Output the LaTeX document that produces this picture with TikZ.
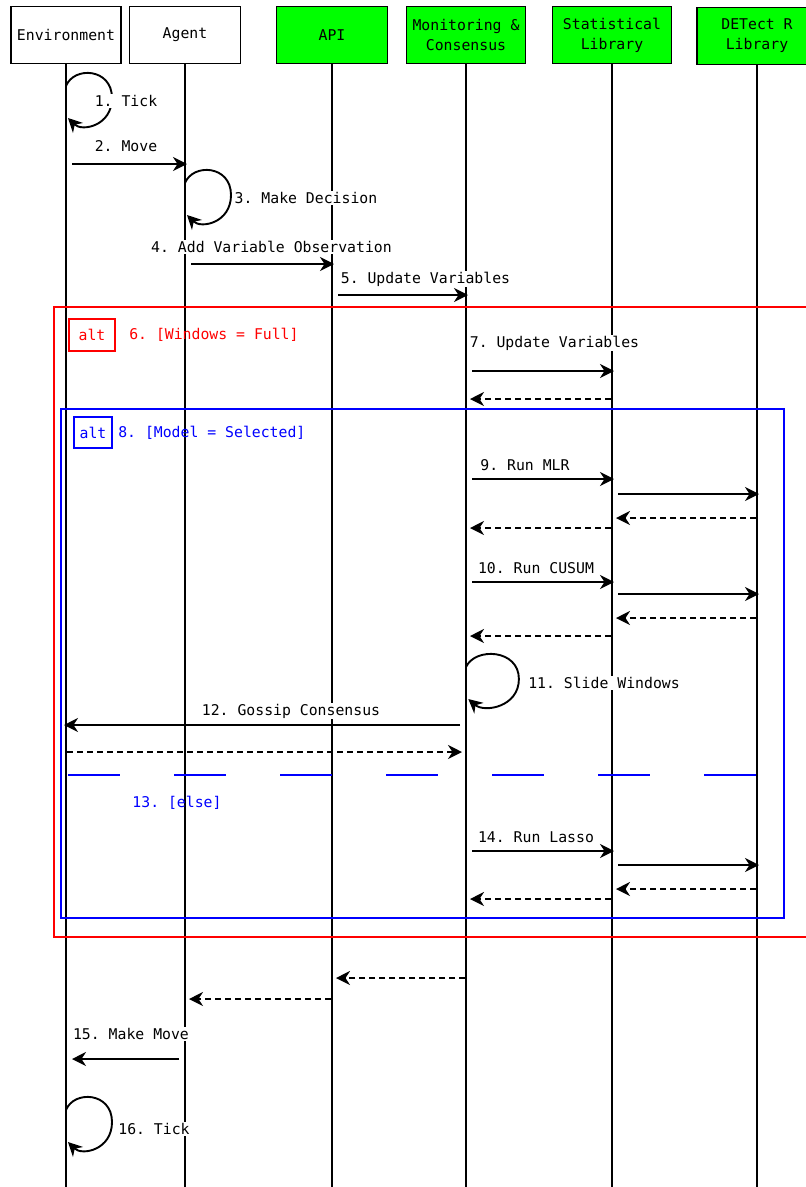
\documentclass[tikz,border=0pt]{standalone}
\usepackage{fontspec}
\setmainfont{DejaVu Sans Mono}
\frenchspacing
\usetikzlibrary{arrows.meta,positioning,calc}

\tikzset{
  actor/.style={draw,line width=1.6pt,minimum height=57pt,align=center,inner sep=2pt},
  lib/.style={actor,fill=green},
  life/.style={line width=1.4pt},
  msg/.style={->,line width=1.9pt,shorten <=6pt,shorten >=-2pt},
  ret/.style={->,line width=1.9pt,dash pattern=on 6pt off 4pt,shorten <=1pt,shorten >=4pt},
  lbl/.style={fill=white,inner sep=1pt},
  tag/.style={draw,line width=1.5pt,minimum width=46pt,minimum height=32pt,inner sep=1pt},
  selfloop/.pic={\draw[->,line width=1.9pt] (0,0) .. controls (8,-20) and (46,-18) .. (46,12) .. controls (46,40) and (16,46) .. (2,32);}
}

\begin{document}
\begin{tikzpicture}[x=1pt,y=-1pt,>={Stealth[length=14pt,width=14pt,inset=4.5pt]},font=\fontsize{14.8}{20}\selectfont]
\useasboundingbox (0,0) rectangle (806,1187);

% participants
\node[actor,minimum width=110pt] (env) at (66,35) {Environment};
\node[actor,minimum width=111pt] (agent) at (185,35) {Agent};
\node[lib,minimum width=111pt] (api) at (332,35) {API};
\node[lib,minimum width=119pt] (mon) at (466,35) {Monitoring \&\\Consensus};
\node[lib,minimum width=119pt] (stat) at (612,35) {Statistical\\Library};
\node[lib,minimum width=120pt] (detect) at (757,36) {DETect R\\Library};

\foreach \n in {env,agent,api,mon,stat,detect}
  \draw[life] (\n.south) -- (\n.south |- 0,1190);

% alt frames
\draw[red,line width=2pt] (54,307) rectangle (820,937);
\node[tag,red] (alt1) at (92,335) {alt};
\node[red,right=10pt of alt1] (cond1) {6. [Windows = Full]};
\draw[blue,line width=2pt] (61,409) rectangle (784,918);
\node[tag,blue,minimum width=38pt,minimum height=31pt] (alt2) at (93,432.5) {alt};
\node[blue,right=2pt of alt2] (cond2) {8. [Model = Selected]};
\draw[blue,line width=2pt,dash pattern=on 52pt off 54pt] ([xshift=2pt]env |- 0,775) -- (detect |- 0,775);
\node[blue] (cond3) at (177,803) {13. [else]};

% messages
\pic at (env |- 0,86) {selfloop};
\node[lbl] (t1) at (126,101) {1. Tick};
\draw[msg] (env |- 0,164) -- (agent |- 0,164);
\node[lbl] (t2) at (126,146) {2. Move};
\pic at (agent |- 0,183) {selfloop};
\node[lbl] (t3) at (306,198) {3. Make Decision};
\draw[msg] (agent |- 0,264) -- (api |- 0,264);
\node[lbl] (t4) at (271.5,247) {4. Add Variable Observation};
\draw[msg] (api |- 0,295) -- (mon |- 0,295);
\node[lbl] (t5) at (425.5,279) {5. Update Variables};

\draw[msg] (mon |- 0,371) -- (stat |- 0,371);
\node[lbl] (t7) at (554.5,343) {7. Update Variables};
\draw[ret] (stat |- 0,399) -- (mon |- 0,399);

\draw[msg] (mon |- 0,479) -- (stat |- 0,479);
\node[lbl] (t9) at (525,465) {9. Run MLR};
\draw[msg] (stat |- 0,494) -- (detect |- 0,494);
\draw[ret] (detect |- 0,518) -- (stat |- 0,518);
\draw[ret] (stat |- 0,528) -- (mon |- 0,528);

\draw[msg] (mon |- 0,582) -- (stat |- 0,582);
\node[lbl] (t10) at (536,568) {10. Run CUSUM};
\draw[msg] (stat |- 0,594) -- (detect |- 0,594);
\draw[ret] (detect |- 0,618) -- (stat |- 0,618);
\draw[ret] (stat |- 0,636) -- (mon |- 0,636);

\pic[xscale=1.15] at (mon |- 0,667) {selfloop};
\node[lbl] (t11) at (604,683) {11. Slide Windows};
\draw[msg] (mon |- 0,725) -- (env |- 0,725);
\node[lbl] (t12) at (291,711) {12. Gossip Consensus};
\draw[ret] (env |- 0,752) -- (mon |- 0,752);

\draw[msg] (mon |- 0,851) -- (stat |- 0,851);
\node[lbl] (t14) at (536,837) {14. Run Lasso};
\draw[msg] (stat |- 0,865) -- (detect |- 0,865);
\draw[ret] (detect |- 0,889) -- (stat |- 0,889);
\draw[ret] (stat |- 0,899) -- (mon |- 0,899);

\draw[ret] (mon |- 0,978) -- (api |- 0,978);
\draw[ret] (api |- 0,999) -- (agent |- 0,999);
\draw[msg,shorten >=6pt] (agent |- 0,1059) -- (env |- 0,1059);
\node[lbl] (t15) at (131,1034) {15. Make Move};
\pic at (env |- 0,1110) {selfloop};
\node[lbl] (t16) at (154,1129) {16. Tick};
\end{tikzpicture}
\end{document}
